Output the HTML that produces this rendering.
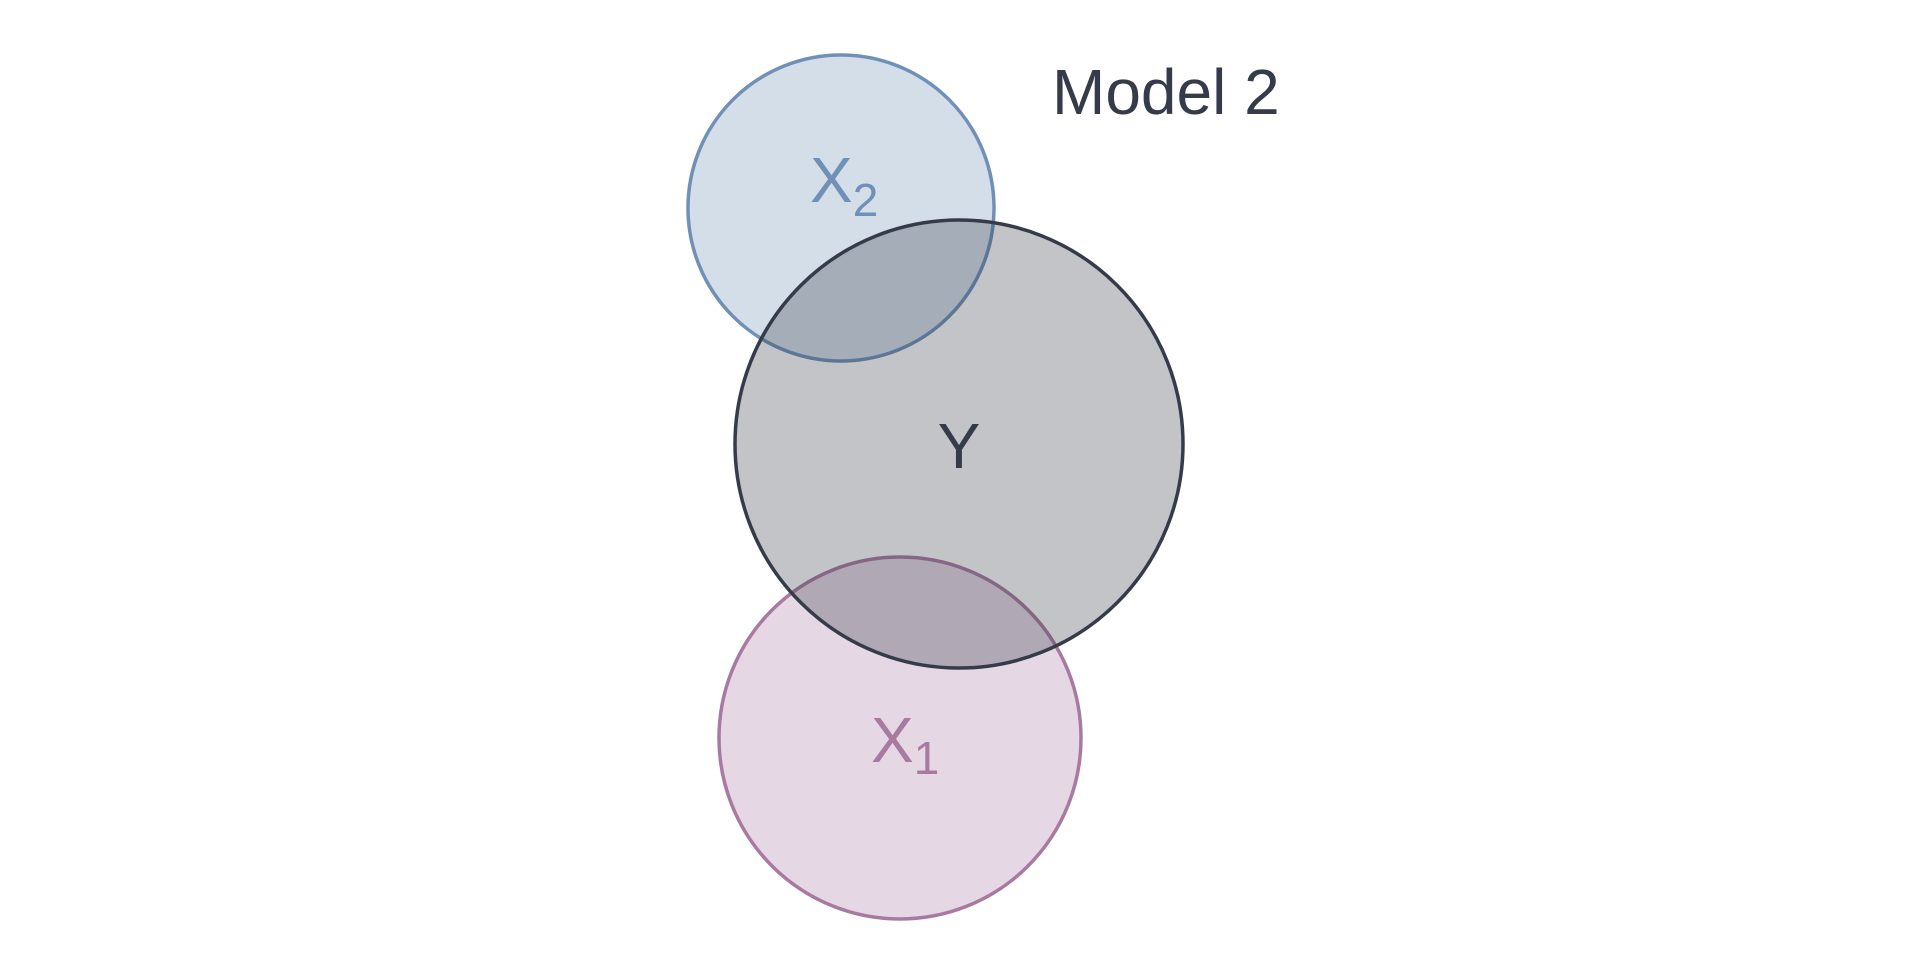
<!DOCTYPE html>
<html><head><meta charset="utf-8"><style>
html,body{margin:0;padding:0;background:#fff;}
svg{display:block;}
text{font-family:"Liberation Sans","DejaVu Sans",sans-serif;}
</style></head><body>
<svg width="1920" height="960" viewBox="0 0 1920 960" xmlns="http://www.w3.org/2000/svg">
<rect width="1920" height="960" fill="#fff"/>
<circle cx="841" cy="208" r="153" fill="#d4dee9" stroke="#7090b8" stroke-width="3.5"/>
<circle cx="900" cy="738" r="181" fill="#e5d7e3" stroke="#a87aa0" stroke-width="3.5"/>
<circle cx="959" cy="444" r="224" fill="#363b4a" fill-opacity="0.30" stroke="#363b4a" stroke-width="3.5"/>
<text x="810" y="202" font-size="64" fill="#7090b8">X<tspan font-size="46" dy="14">2</tspan></text>
<text x="959" y="468" font-size="64" fill="#363b4a" text-anchor="middle">Y</text>
<text x="871" y="762" font-size="64" fill="#a87aa0">X<tspan font-size="46" dy="12">1</tspan></text>
<text x="1052" y="114" font-size="64" fill="#363b4a">Model 2</text>
</svg>
</body></html>
